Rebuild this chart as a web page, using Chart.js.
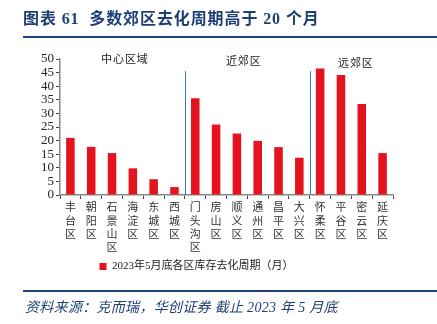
<!DOCTYPE html>
<html><head><meta charset="utf-8">
<script src="https://cdn.jsdelivr.net/npm/chart.js@4/dist/chart.umd.min.js"></script>
<style>
html,body{margin:0;padding:0;background:#fff;width:437px;height:324px;overflow:hidden;position:relative;}
#title{position:absolute;left:23px;top:5px;font-family:"Liberation Serif","Noto Sans CJK SC",serif;font-weight:bold;font-size:16px;letter-spacing:0.9px;color:#1F3F77;white-space:nowrap;}
#tline{position:absolute;left:23px;top:36px;width:414px;height:2px;background:#1F3F77;}
#fline{position:absolute;left:23px;top:290px;width:414px;height:2px;background:#1F3F77;}
#foot{position:absolute;left:25px;top:296px;font-family:"Liberation Serif","Noto Sans CJK SC",serif;font-style:italic;font-size:14px;letter-spacing:0.3px;color:#1F3F77;white-space:nowrap;}
#wrap{position:absolute;left:0;top:0;width:437px;height:324px;}
</style></head>
<body>
<div id="wrap"><canvas id="c" width="437" height="324"></canvas></div>
<div id="title">图表 61&nbsp; 多数郊区去化周期高于 20 个月</div>
<div id="tline"></div>
<div id="fline"></div>
<div id="foot">资料来源：克而瑞，华创证券 截止 2023 年 5 月底</div>
<script>
const categories = ['丰台区','朝阳区','石景山区','海淀区','东城区','西城区','门头沟区','房山区','顺义区','通州区','昌平区','大兴区','怀柔区','平谷区','密云区','延庆区'];
const values = [21.0,17.7,15.4,9.8,5.8,2.9,35.6,25.9,22.6,19.9,17.6,13.7,46.5,44.1,33.5,15.4];
const seriesName = '2023年5月底各区库存去化周期（月）';
const groupNames = ['中心区域','近郊区','远郊区'];
const groupStart = [0,6,12];
const groupEnd = [5,11,15];
const yTicksMax = 50;
const yTicksStep = 5;

const FONT = '"Liberation Serif","Noto Sans CJK SC",serif';

const groupPlugin = {
  id:'groups',
  afterDatasetsDraw(chart){
    const {ctx, scales:{x,y}} = chart;
    ctx.save();
    ctx.strokeStyle = '#4472C4';
    ctx.lineWidth = 1;
    const top = y.getPixelForValue(45.5);
    for (let g=1; g<groupStart.length; g++){
      const i = groupStart[g];
      const px = Math.round((x.getPixelForValue(i-1)+x.getPixelForValue(i))/2)+0.5;
      ctx.beginPath(); ctx.moveTo(px, top); ctx.lineTo(px, y.bottom); ctx.stroke();
    }
    ctx.fillStyle = '#222';
    ctx.font = '11px ' + FONT;
    ctx.textAlign = 'center';
    ctx.textBaseline = 'middle';
    const ly = [49.5,48.8,48.1];
    const dx = [2,-4,4];
    for (let g=0; g<groupNames.length; g++){
      const cx = (x.getPixelForValue(groupStart[g])+x.getPixelForValue(groupEnd[g]))/2 + dx[g];
      const s = groupNames[g].split('').join(String.fromCharCode(8202));
      ctx.fillText(s, cx, y.getPixelForValue(ly[g]));
    }
    ctx.restore();
  }
};

new Chart(document.getElementById('c'), {
  type:'bar',
  data:{
    labels: categories.map(s=>s.split('')),
    datasets:[{label:seriesName, data:values, backgroundColor:'#E5131E', borderWidth:0, categoryPercentage:1, barPercentage:0.41}]
  },
  options:{
    responsive:false, animation:false,
    layout:{padding:{top:59,right:44,left:0,bottom:42}},
    plugins:{
      legend:{position:'bottom', labels:{font:{family:FONT,size:11}, color:'#222', boxWidth:7, boxHeight:7, padding:6}},
      tooltip:{enabled:false}
    },
    scales:{
      x:{
        grid:{display:true, drawOnChartArea:false, offset:true, tickLength:4, color:'#444'},
        border:{color:'#888', width:1.5},
        ticks:{font:{family:FONT,size:11}, color:'#333', maxRotation:0, autoSkip:false, padding:3},
        afterFit(s){ s.height = 60; }
      },
      y:{
        min:0, max:yTicksMax,
        grid:{display:true, drawOnChartArea:false, tickLength:4, color:'#444'},
        border:{color:'#888', width:1.5},
        ticks:{stepSize:yTicksStep, autoSkip:false, font:{family:FONT,size:13}, color:'#222', padding:2},
        afterFit(s){ s.width = 60; }
      }
    }
  },
  plugins:[groupPlugin]
});
</script>
</body></html>
